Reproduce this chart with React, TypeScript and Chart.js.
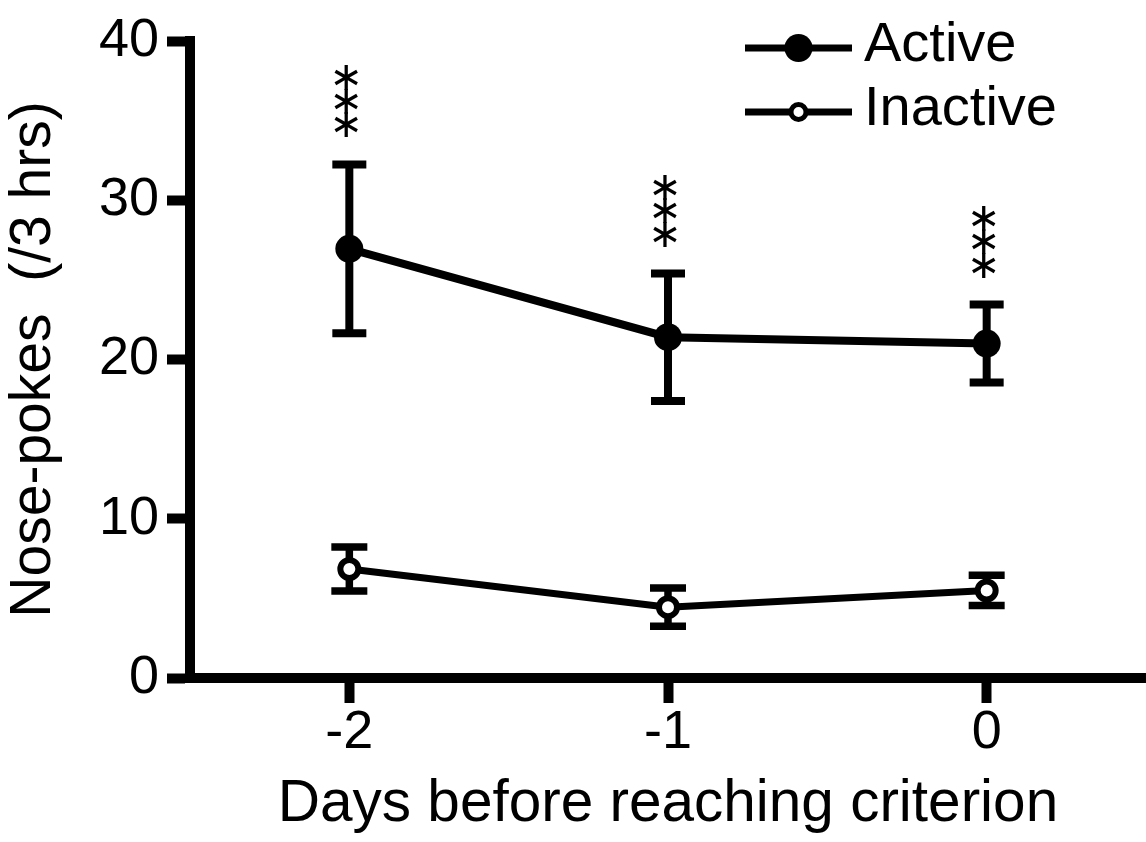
import React, { useEffect, useRef } from "react";
import { Chart, registerables } from "chart.js";

Chart.register(...registerables);

// ---- data ----
const days = [-2, -1, 0];
const xTicks = [-2, -1, 0];
const yTicks = [0, 10, 20, 30, 40];
const activeMean = [26.95, 21.4, 21.0];
const activeSem = [5.3, 4.0, 2.45];
const inactiveMean = [6.85, 4.45, 5.5];
const inactiveSem = [1.38, 1.2, 0.95];
const significance = ["***", "***", "***"];
const seriesNames = ["Active", "Inactive"];
const xTitle = "Days before reaching criterion";
const yTitle = "Nose-pokes  (/3 hrs)";

const FONT = "'Liberation Sans', Arial, Helvetica, sans-serif";

const errorBarPlugin = {
  id: "errorBars",
  beforeDatasetsDraw(chart: any) {
    const { ctx, scales } = chart;
    const x = scales.x;
    const y = scales.y;
    ctx.save();
    ctx.strokeStyle = "#000";
    ctx.lineCap = "butt";
    chart.data.datasets.forEach((ds: any) => {
      const sem: number[] = ds.sem;
      const cap: number = ds.capHalf;
      ctx.lineWidth = ds.errWidth;
      ds.data.forEach((p: any, i: number) => {
        const px = x.getPixelForValue(p.x);
        const top = y.getPixelForValue(p.y + sem[i]);
        const bot = y.getPixelForValue(p.y - sem[i]);
        ctx.beginPath();
        ctx.moveTo(px, top);
        ctx.lineTo(px, bot);
        ctx.moveTo(px - cap, top);
        ctx.lineTo(px + cap, top);
        ctx.moveTo(px - cap, bot);
        ctx.lineTo(px + cap, bot);
        ctx.stroke();
      });
    });
    ctx.restore();
  },
};

const starsPlugin = {
  id: "stars",
  afterDatasetsDraw(chart: any) {
    const { ctx, scales } = chart;
    const x = scales.x;
    const y = scales.y;
    const ds = chart.data.datasets[0];
    ctx.save();
    ctx.fillStyle = "#000";
    ctx.textAlign = "center";
    ctx.textBaseline = "alphabetic";
    ctx.font = "40px 'DejaVu Sans'";
    const glyph = "\u2217";
    const m = ctx.measureText(glyph);
    const shift = (m.actualBoundingBoxAscent - m.actualBoundingBoxDescent) / 2;
    ds.data.forEach((p: any, i: number) => {
      const px = x.getPixelForValue(p.x);
      const top = y.getPixelForValue(p.y + ds.sem[i]);
      const chars = significance[i].split("");
      const n = chars.length;
      chars.forEach((c, k) => {
        const cy = top - 40 - (n - 1 - k) * 23.5;
        ctx.fillText(c === "*" ? glyph : c, px - 3, cy + shift);
      });
    });
    ctx.restore();
  },
};

const cornerPlugin = {
  id: "axisCorners",
  afterDraw(chart: any) {
    const { ctx, chartArea } = chart;
    ctx.save();
    ctx.fillStyle = "#000";
    // square off the joins of the thick axis lines
    ctx.fillRect(chartArea.left - 5, chartArea.top - 5, 10, 6);
    ctx.fillRect(chartArea.left - 5, chartArea.bottom - 1, 10, 6);
    ctx.restore();
  },
};

const legendPlugin = {
  id: "customLegend",
  afterDraw(chart: any) {
    const { ctx } = chart;
    const x0 = 745;
    const x1 = 852;
    const rows = [48, 112];
    ctx.save();
    chart.data.datasets.forEach((ds: any, i: number) => {
      const yy = rows[i];
      ctx.strokeStyle = "#000";
      ctx.lineWidth = 7;
      ctx.beginPath();
      ctx.moveTo(x0, yy);
      ctx.lineTo(x1, yy);
      ctx.stroke();
      const cx = (x0 + x1) / 2;
      const r = i === 0 ? 14 : 7.5;
      ctx.beginPath();
      ctx.arc(cx, yy, r, 0, Math.PI * 2);
      ctx.fillStyle = ds.pointBackgroundColor;
      ctx.fill();
      if (i === 1) {
        ctx.lineWidth = 5;
        ctx.strokeStyle = "#000";
        ctx.stroke();
      }
      ctx.fillStyle = "#000";
      ctx.font = `56px ${FONT}`;
      ctx.textAlign = "left";
      ctx.textBaseline = "middle";
      ctx.fillText(ds.label, 864, yy - 2);
    });
    ctx.restore();
  },
};

export default function App() {
  const ref = useRef<HTMLCanvasElement | null>(null);

  useEffect(() => {
    if (!ref.current) return;
    const chart = new Chart(ref.current, {
      type: "line",
      data: {
        datasets: [
          {
            label: seriesNames[0],
            data: days.map((d, i) => ({ x: d, y: activeMean[i] })),
            borderColor: "#000",
            borderWidth: 8,
            pointRadius: 14,
            pointBorderWidth: 0,
            pointBackgroundColor: "#000",
            pointBorderColor: "#000",
            sem: activeSem,
            capHalf: 17,
            errWidth: 8,
          } as any,
          {
            label: seriesNames[1],
            data: days.map((d, i) => ({ x: d, y: inactiveMean[i] })),
            borderColor: "#000",
            borderWidth: 7,
            pointRadius: 9,
            pointBorderWidth: 6,
            pointBackgroundColor: "#fff",
            pointBorderColor: "#000",
            sem: inactiveSem,
            capHalf: 18,
            errWidth: 7.5,
          } as any,
        ],
      },
      options: {
        animation: false,
        responsive: false,
        events: [],
        layout: { autoPadding: false, padding: { top: 41, left: 0, right: 0, bottom: 0 } },
        plugins: {
          legend: { display: false },
          tooltip: { enabled: false },
        },
        scales: {
          x: {
            type: "linear",
            min: -2.5,
            max: 0.5,
            afterBuildTicks: (s: any) => {
              s.ticks = xTicks.map((v) => ({ value: v }));
            },
            afterFit: (s: any) => {
              s.height = 164;
              s.paddingLeft = 0;
              s.paddingRight = 0;
            },
            border: { display: true, color: "#000", width: 10 },
            grid: {
              drawOnChartArea: false,
              drawTicks: true,
              tickLength: 25,
              tickWidth: 10,
              tickColor: "#000",
            },
            ticks: {
              color: "#000",
              font: { family: FONT, size: 54, lineHeight: 1.1 },
              padding: 0,
              maxRotation: 0,
              callback: (v: any) => String(v),
            },
            title: {
              display: true,
              text: xTitle,
              color: "#000",
              font: { family: FONT, size: 58.5 },
              padding: { top: 0, bottom: 2 },
            },
          },
          y: {
            type: "linear",
            min: 0,
            max: 40,
            afterBuildTicks: (s: any) => {
              s.ticks = yTicks.map((v) => ({ value: v }));
            },
            afterFit: (s: any) => {
              s.width = 190;
            },
            border: { display: true, color: "#000", width: 10 },
            grid: {
              drawOnChartArea: false,
              drawTicks: true,
              tickLength: 23,
              tickWidth: 10,
              tickColor: "#000",
            },
            ticks: {
              color: "#000",
              font: { family: FONT, size: 54 },
              padding: 8,
              callback: (v: any) => String(v),
            },
            title: {
              display: true,
              text: yTitle,
              color: "#000",
              font: { family: FONT, size: 57 },
              padding: { top: 0, bottom: 0 },
            },
          },
        },
      },
      plugins: [errorBarPlugin, starsPlugin, cornerPlugin, legendPlugin],
    } as any);
    return () => chart.destroy();
  }, []);

  return (
    <div style={{ position: "absolute", left: 0, top: 0, width: 1146, height: 842, background: "#fff" }}>
      <canvas ref={ref} width={1146} height={842} style={{ display: "block" }} />
    </div>
  );
}
